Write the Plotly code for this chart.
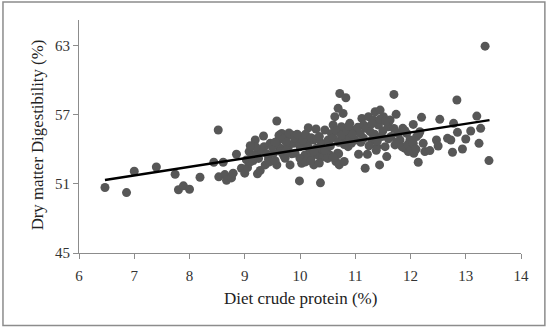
import plotly.graph_objects as go
import numpy as np

# Diet crude protein (%)
crude_protein = [
    6.47, 6.86, 7.00, 7.40, 7.74, 7.80, 7.89, 8.00, 8.19, 8.52, 8.44, 8.53, 8.61, 8.64, 8.67, 8.76, 8.79, 8.85,
    8.94, 9.00, 9.03, 9.08, 9.13, 9.19, 9.22, 9.23, 9.28, 9.34, 9.35, 9.37, 9.43, 9.46, 9.52, 9.58, 9.58, 9.61,
    9.64, 9.67, 9.70, 9.73, 9.76, 9.79, 9.82, 9.85, 9.88, 9.91, 9.94, 9.99, 10.00, 10.03, 10.06, 10.09, 10.12,
    10.15, 10.18, 10.21, 10.24, 10.25, 10.29, 10.30, 10.33, 10.37, 10.39, 10.42, 10.45, 10.48, 10.51, 10.54,
    10.57, 10.60, 10.63, 10.65, 10.68, 10.69, 10.71, 10.72, 10.74, 10.75, 10.78, 10.80, 10.83, 10.84, 10.87,
    10.90, 10.93, 10.97, 11.00, 11.06, 11.09, 11.12, 11.15, 11.18, 11.19, 11.22, 11.24, 11.27, 11.30, 11.33,
    11.36, 11.39, 11.42, 11.44, 11.45, 11.48, 11.51, 11.54, 11.57, 11.60, 11.63, 11.70, 11.72, 11.74, 11.78,
    11.81, 11.86, 11.90, 11.93, 11.96, 11.99, 12.02, 12.05, 12.06, 12.11, 12.14, 12.17, 12.20, 12.23, 12.26,
    12.35, 12.47, 12.50, 12.53, 12.67, 12.73, 12.78, 12.76, 12.84, 12.85, 12.94, 13.00, 13.09, 13.20, 13.24,
    13.27, 13.35, 13.42,
    9.05, 9.10, 9.15, 9.25, 9.30, 9.40, 9.45, 9.50, 9.55, 9.20, 9.10,
    9.55, 9.62, 9.70, 9.75, 9.80, 9.90, 9.95, 9.65, 9.75, 9.85,
    10.05, 10.10, 10.20, 10.30, 10.35, 10.40, 10.45, 10.15, 10.25, 10.00, 10.10, 10.20, 10.35, 10.50, 10.55,
    10.60, 10.65, 10.70, 10.75, 10.80, 10.85, 10.90, 10.95, 10.70, 10.60, 10.88,
    11.05, 11.10, 11.15, 11.20, 11.25, 11.30, 11.35, 11.40, 11.45, 11.38, 11.50,
    11.55, 11.60, 11.65, 11.70, 11.75, 11.85, 11.90, 11.95, 12.00, 12.05, 12.10, 12.15,
]

# Dry matter digestibility (%)
dm_digestibility = [
    50.68, 50.24, 52.09, 52.46, 51.83, 50.48, 50.82, 50.53, 51.57, 55.66, 52.87, 51.60, 52.87, 51.80, 51.31, 51.51, 51.92, 53.56,
    52.35, 51.92, 53.07, 53.79, 53.44, 54.80, 53.65, 51.86, 52.15, 55.14, 54.22, 52.64, 53.13, 54.51, 53.65, 56.44, 52.64, 54.80,
    54.08, 55.37, 53.50, 53.21, 55.09, 54.22, 52.64, 55.23, 54.51, 53.65, 54.80, 51.25, 54.22, 52.78, 55.09, 53.50, 54.51,
    55.86, 53.93, 53.36, 54.80, 52.64, 55.75, 54.08, 53.50, 51.08, 54.51, 53.36, 55.66, 53.93, 54.80, 53.50,
    55.37, 56.10, 56.82, 52.93, 53.65, 57.54, 52.64, 58.83, 54.80, 55.95, 57.10, 52.93, 58.46, 55.09, 54.22,
    56.24, 54.51, 55.66, 54.80, 53.56, 55.37, 56.67, 54.94, 52.35, 55.95, 53.56, 56.82, 55.52, 54.80, 56.53,
    57.25, 54.22, 56.10, 52.64, 57.39, 55.09, 56.82, 54.22, 53.36, 55.95, 56.53, 58.75, 54.37, 57.02, 55.37,
    54.80, 55.81, 54.08, 55.37, 53.79, 54.80, 54.22, 56.15, 53.65, 55.09, 52.87, 55.52, 56.76, 54.51, 53.79,
    53.88, 54.80, 54.28, 56.59, 54.94, 54.80, 56.24, 53.73, 58.26, 55.46, 54.02, 54.88, 55.58, 56.87, 54.51,
    55.81, 62.93, 53.01,
    52.40, 52.90, 53.00, 53.20, 53.90, 53.60, 52.90, 54.20, 53.00, 54.20, 54.30,
    54.60, 55.20, 54.90, 54.60, 55.40, 55.00, 55.30, 53.80, 53.90, 53.60,
    54.80, 55.30, 55.00, 54.90, 55.10, 54.00, 53.90, 54.20, 53.80, 53.20, 52.90, 53.00, 52.80, 53.20, 54.30,
    55.00, 55.60, 54.60, 55.20, 54.40, 55.60, 54.90, 55.30, 53.60, 53.30, 56.00,
    55.90, 54.60, 56.10, 55.80, 54.30, 56.20, 55.30, 54.70, 56.60, 53.90, 55.60,
    56.40, 54.90, 55.10, 55.80, 54.60, 54.20, 55.60, 54.40, 53.90, 54.50, 54.00, 55.30,
]

# Linear trend line
trend_x = [6.47, 13.43]
trend_slope = 0.7457
trend_intercept = 46.505

x_ticks = [6, 7, 8, 9, 10, 11, 12, 13, 14]
y_ticks = [45, 51, 57, 63]

trend_y = [trend_intercept + trend_slope * v for v in trend_x]

font_family = "Liberation Serif, DejaVu Serif, serif"

fig = go.Figure()
fig.add_trace(go.Scatter(
    x=crude_protein, y=dm_digestibility, mode="markers",
    marker=dict(size=9, color="#575757", line=dict(width=0)),
    showlegend=False, hoverinfo="skip",
))
fig.add_trace(go.Scatter(
    x=trend_x, y=trend_y, mode="lines",
    line=dict(color="black", width=2.4),
    showlegend=False, hoverinfo="skip",
))

axis_common = dict(
    showgrid=False, zeroline=False, showline=True, linecolor="#8c8c8c", linewidth=1,
    ticks="outside", tickcolor="#8c8c8c", ticklen=5, tickwidth=1, automargin=False,
    tickfont=dict(family=font_family, size=15, color="#333333"),
)

fig.update_layout(
    width=550, height=333,
    margin=dict(l=79, r=29, t=20, b=80, autoexpand=False),
    paper_bgcolor="white", plot_bgcolor="white",
    xaxis=dict(range=[6, 14], tickvals=x_ticks, ticklabelstandoff=4, **axis_common),
    yaxis=dict(range=[45, 65.2], tickvals=y_ticks, **axis_common),
    annotations=[
        dict(text="Diet crude protein (%)", xref="paper", yref="paper",
             x=0.5, y=-0.196, xanchor="center", yanchor="middle", showarrow=False,
             font=dict(family=font_family, size=17, color="#222222")),
        dict(text="Dry matter Digestibility (%)", xref="paper", yref="paper",
             x=-0.095, y=0.505, xanchor="center", yanchor="middle", showarrow=False,
             textangle=-90,
             font=dict(family=font_family, size=16.8, color="#222222")),
    ],
    shapes=[
        dict(type="rect", xref="paper", yref="paper",
             x0=-0.172, x1=1.054, y0=-0.311, y1=1.077,
             line=dict(color="#8c8c8c", width=1.5)),
    ],
)

fig.write_html("out.html", config={"displayModeBar": False},
               post_script="document.body.style.margin='0';document.body.style.overflow='hidden';")
